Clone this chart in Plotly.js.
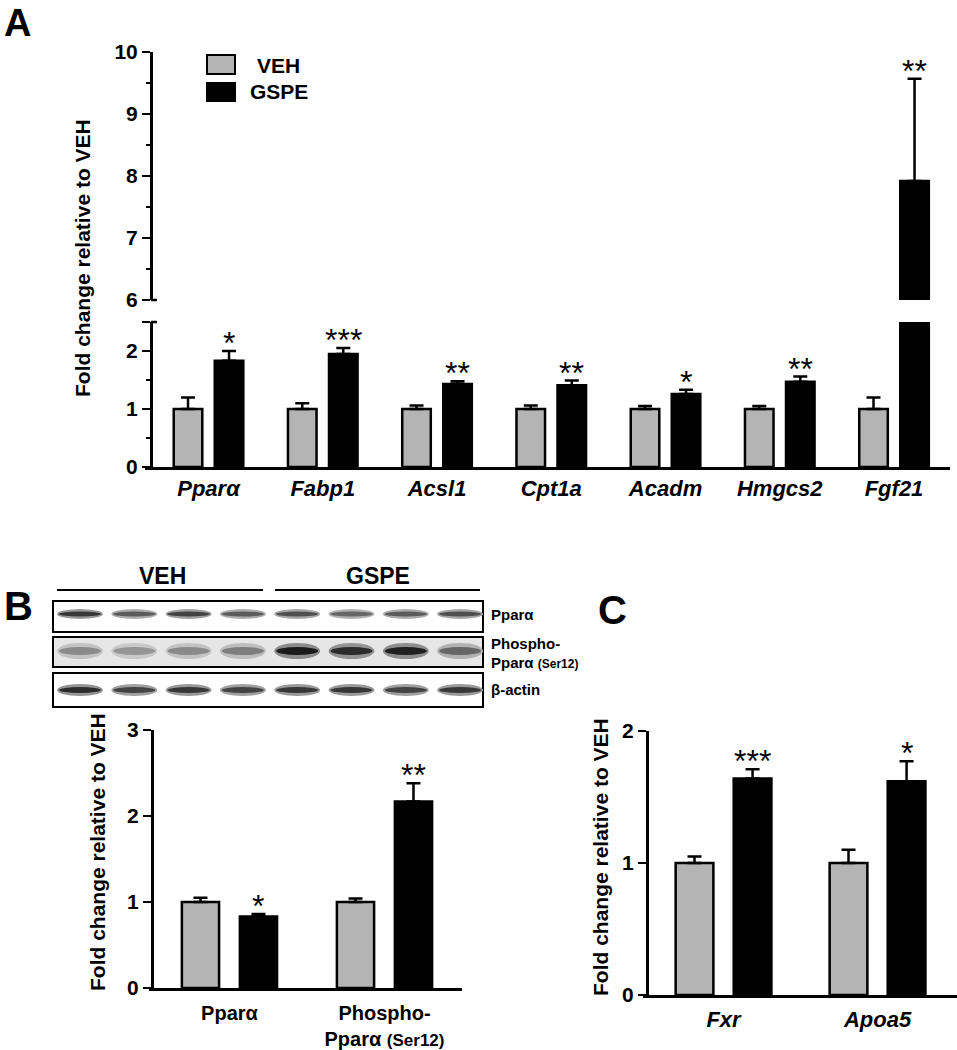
<!DOCTYPE html>
<html>
<head>
<meta charset="utf-8">
<script src="https://cdn.plot.ly/plotly-3.0.1.min.js"></script>
<style>
  html, body { margin: 0; padding: 0; background: #fff; }
  #plot { width: 957px; height: 1050px; }
</style>
</head>
<body>
<div id="plot"></div>
<script>
// Panel A - liver gene expression (fold change vs VEH)
const genesA = ['Pparα', 'Fabp1', 'Acsl1', 'Cpt1a', 'Acadm', 'Hmgcs2', 'Fgf21'];
const vehA = [1, 1, 1, 1, 1, 1, 1];
const vehErrA = [0.2, 0.1, 0.06, 0.06, 0.05, 0.05, 0.2];
const gspeA = [1.83, 1.95, 1.43, 1.41, 1.26, 1.47, 7.92];
const gspeErrA = [0.17, 0.1, 0.05, 0.08, 0.07, 0.09, 1.65];
const sigA = ['*', '***', '**', '**', '*', '**', '**'];

// Panel B - western blot quantification
const proteinsB = ['Pparα', 'Phospho-Pparα (Ser12)'];
const proteinLabelsB = ['Pparα', 'Phospho-<br>Pparα <span style="font-size:17px">(Ser12)</span>'];
const vehB = [1, 1];
const vehErrB = [0.05, 0.04];
const gspeB = [0.83, 2.17];
const gspeErrB = [0.03, 0.21];
const sigB = ['*', '**'];

// Panel C
const genesC = ['Fxr', 'Apoa5'];
const vehC = [1, 1];
const vehErrC = [0.05, 0.1];
const gspeC = [1.64, 1.62];
const gspeErrC = [0.07, 0.15];
const sigC = ['***', '*'];

// blot band darkness per lane (4 VEH, 4 GSPE)
const blotRows = ['Pparα', 'Phospho-Pparα (Ser12)', 'β-actin'];
const bandPpara = [0.85, 0.7, 0.8, 0.7, 0.75, 0.65, 0.7, 0.75];
const bandPhospho = [0.5, 0.45, 0.5, 0.55, 0.97, 0.9, 0.95, 0.65];
const bandActin = [0.9, 0.8, 0.85, 0.8, 0.85, 0.85, 0.8, 0.85];

const W = 957, H = 1050;
const px = v => v / W;
const py = v => 1 - v / H;
const FONT = 'Liberation Sans, Arial, Helvetica, sans-serif';
const GREY = '#b4b4b4';

// two bars per category, slot = distance between centres, bw = bar width (category units)
function barPair(cats, veh, vehErr, gspe, gspeErr, xa, ya, slot, bw, legend) {
    const err = (arr) => ({
        type: 'data', symmetric: false, array: arr, arrayminus: arr.map(() => 0),
        color: '#000', thickness: 2.5, width: 7
    });
    return [
        {
            type: 'bar', name: 'VEH', x: cats, y: veh, xaxis: xa, yaxis: ya,
            width: bw, offset: -slot / 2 - bw / 2, showlegend: legend,
            marker: { color: GREY, line: { color: '#000', width: 2.5 } },
            error_y: err(vehErr), hoverinfo: 'y'
        },
        {
            type: 'bar', name: 'GSPE', x: cats, y: gspe, xaxis: xa, yaxis: ya,
            width: bw, offset: slot / 2 - bw / 2, showlegend: legend,
            marker: { color: '#000', line: { color: '#000', width: 2.5 } },
            error_y: err(gspeErr), hoverinfo: 'y'
        }
    ];
}

const slotA = 0.359, bwA = 0.25;
const slotB = 0.374, bwB = 0.24;
const slotC = 0.377, bwC = 0.245;

const data = [
    ...barPair(genesA, vehA, vehErrA, gspeA, gspeErrA, 'x', 'y', slotA, bwA, false),
    ...barPair(genesA, vehA, vehErrA, gspeA, gspeErrA, 'x', 'y2', slotA, bwA, false),
    ...barPair(proteinsB, vehB, vehErrB, gspeB, gspeErrB, 'x3', 'y3', slotB, bwB, false),
    ...barPair(genesC, vehC, vehErrC, gspeC, gspeErrC, 'x4', 'y4', slotC, bwC, false)
];

const tickFont = { family: FONT, size: 21, color: '#000', weight: 'bold' };
const geneFont = { family: FONT, size: 22, color: '#000', weight: 'bold', style: 'italic' };

function yAxis(domain, range, pos, tickvals, ticktext, minorVals) {
    const ax = {
        domain: domain, range: range, anchor: 'free', position: pos,
        tickmode: 'array', tickvals: tickvals, ticktext: ticktext,
        ticks: 'outside', ticklen: 8, tickwidth: 2.5, tickcolor: '#000',
        showline: true, linewidth: 2.5, linecolor: '#000',
        showgrid: false, zeroline: false, tickfont: tickFont, fixedrange: true
    };
    if (minorVals) {
        ax.minor = { tickmode: 'array', tickvals: minorVals, ticks: 'outside', ticklen: 4, tickwidth: 2, tickcolor: '#000', showgrid: false };
    }
    return ax;
}

function xAxis(domain, range, anchor, font, standoff, labels) {
    const ax = {
        domain: domain, range: range, anchor: anchor, type: 'category',
        showline: true, linewidth: 2.5, linecolor: '#000', ticks: '',
        showgrid: false, zeroline: false, tickfont: font, ticklabelstandoff: standoff, fixedrange: true
    };
    if (labels) { ax.tickmode = 'array'; ax.tickvals = labels[0]; ax.ticktext = labels[1]; }
    return ax;
}

// significance stars above the GSPE bars
const annotations = [];
function stars(cats, gspe, gspeErr, sig, xa, yaFor, slot) {
    cats.forEach((c, i) => {
        const top = gspe[i] + gspeErr[i];
        annotations.push({
            x: i + slot / 2, y: top, xref: xa, yref: yaFor(top),
            text: sig[i], showarrow: false, xanchor: 'center', yanchor: 'bottom', yshift: -12,
            font: { family: FONT, size: 32, color: '#000' }
        });
    });
}
stars(genesA, gspeA, gspeErrA, sigA, 'x', t => (t > 2.5 ? 'y2' : 'y'), slotA);
stars(proteinsB, gspeB, gspeErrB, sigB, 'x3', () => 'y3', slotB);
stars(genesC, gspeC, gspeErrC, sigC, 'x4', () => 'y4', slotC);

function paperText(text, x, y, size, opts) {
    annotations.push(Object.assign({
        text: text, x: px(x), y: py(y), xref: 'paper', yref: 'paper', showarrow: false,
        xanchor: 'center', yanchor: 'middle',
        font: { family: FONT, size: size, color: '#000', weight: 'bold' }
    }, opts || {}));
}

// panel letters
paperText('A', 2, 0, 38, { xanchor: 'left', yanchor: 'top' });
paperText('B', 2, 606, 40, { xanchor: 'left' });
paperText('C', 596, 610, 40, { xanchor: 'left' });

// y titles
const yTitle = 'Fold change relative to VEH';
paperText(yTitle, 82, 258, 21, { textangle: -90 });
paperText(yTitle, 97, 852, 21, { textangle: -90 });
paperText(yTitle, 600, 857, 21, { textangle: -90 });

// legend (panel A)
paperText('VEH', 255, 65, 21, { xanchor: 'left' });
paperText('GSPE', 248, 92, 21, { xanchor: 'left' });

// blot header and row labels
paperText('VEH', 162, 576, 23);
paperText('GSPE', 378, 576, 23);
paperText(blotRows[0], 489, 614, 15, { xanchor: 'left' });
paperText('Phospho-', 489, 643, 15, { xanchor: 'left' });
paperText('Pparα <span style="font-size:12px">(Ser12)</span>', 489, 662, 15, { xanchor: 'left' });
paperText(blotRows[2], 489, 689, 15, { xanchor: 'left' });

const shapes = [];
function prect(x0, y0, x1, y1, fill, lw) {
    shapes.push({ type: 'rect', xref: 'paper', yref: 'paper', x0: px(x0), x1: px(x1), y0: py(y0), y1: py(y1),
        fillcolor: fill, line: { color: '#000', width: lw } });
}
function pline(x0, y0, x1, y1, lw) {
    shapes.push({ type: 'line', xref: 'paper', yref: 'paper', x0: px(x0), x1: px(x1), y0: py(y0), y1: py(y1),
        line: { color: '#000', width: lw } });
}

// legend boxes
prect(207, 55, 235, 74, GREY, 2);
prect(207, 83, 235, 101, '#000', 2);

// axis break caps
pline(151, 300, 157, 300, 2.5);
pline(151, 322, 157, 322, 2.5);

// western blot
pline(57, 590, 263, 590, 2);
pline(275, 590, 480, 590, 2);
const boxes = [[601, 632, 'rgba(0,0,0,0)'], [637, 667, '#e6e6e6'], [673, 707, 'rgba(0,0,0,0)']];
const bandRows = [bandPpara, bandPhospho, bandActin];
const bandY = [614, 651, 690];
const bandH = [2.5, 4, 3];
boxes.forEach((b, r) => {
    prect(53, b[0], 483, b[1], b[2], 2);
    bandRows[r].forEach((d, i) => {
        const cx = 80 + i * 54.3;
        const g1 = Math.round(255 - 120 * d), g2 = Math.round(255 - 235 * d);
        shapes.push({ type: 'circle', xref: 'paper', yref: 'paper',
            x0: px(cx - 23), x1: px(cx + 23), y0: py(bandY[r] - bandH[r] * 2), y1: py(bandY[r] + bandH[r] * 2),
            fillcolor: `rgb(${g1},${g1},${g1})`, line: { width: 0 } });
        shapes.push({ type: 'circle', xref: 'paper', yref: 'paper',
            x0: px(cx - 21), x1: px(cx + 21), y0: py(bandY[r] - bandH[r]), y1: py(bandY[r] + bandH[r]),
            fillcolor: `rgb(${g2},${g2},${g2})`, line: { width: 0 } });
    });
});

const layout = {
    width: W, height: H,
    margin: { l: 0, r: 0, t: 0, b: 0 },
    paper_bgcolor: '#fff', plot_bgcolor: 'rgba(0,0,0,0)',
    barmode: 'overlay', showlegend: false,
    font: { family: FONT, color: '#000' },
    xaxis: xAxis([px(145), px(950)], [-0.556, 6.49], 'y', geneFont, 0),
    yaxis: yAxis([py(467), py(322)], [0, 2.5], px(151), [0, 1, 2, 2.5], ['0', '1', '2', ''], [0.5, 1.5]),
    yaxis2: yAxis([py(300), py(52)], [6, 10], px(151), [6, 7, 8, 9, 10], ['6', '7', '8', '9', '10'], [6.5, 7.5, 8.5, 9.5]),
    xaxis3: xAxis([px(149), px(462)], [-0.519, 1.5], 'y3', Object.assign({}, tickFont, { size: 20 }), 5, [proteinsB, proteinLabelsB]),
    yaxis3: yAxis([py(988), py(730)], [0, 3], px(152), [0, 1, 2, 3], ['0', '1', '2', '3']),
    xaxis4: xAxis([px(643), 1], [-0.523, 1.516], 'y4', geneFont, 3),
    yaxis4: yAxis([py(995), py(731)], [0, 2], px(647), [0, 1, 2], ['0', '1', '2']),
    annotations: annotations,
    shapes: shapes
};

Plotly.newPlot('plot', data, layout, { displayModeBar: false, staticPlot: true });
</script>
</body>
</html>
